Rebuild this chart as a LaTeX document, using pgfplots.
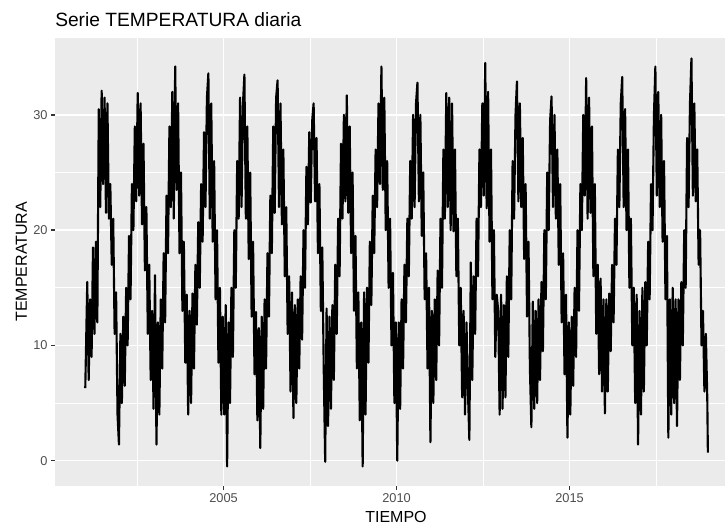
\documentclass[border=0pt]{standalone}
\usepackage{pgfplots}
\pgfplotsset{compat=1.18}
\usepackage{fontspec}
\setmainfont{Liberation Sans}
\definecolor{panelbg}{HTML}{EBEBEB}
\definecolor{gray30}{HTML}{4D4D4D}
\definecolor{gray20}{HTML}{333333}
\begin{document}
\begin{tikzpicture}
\useasboundingbox (0,0) rectangle (543.75pt,393.75pt);
\begin{axis}[
  at={(41.25pt,29.475pt)}, anchor=south west,
  scale only axis, width=502.5pt, height=336pt,
  xmin=2000.13, xmax=2019.49, ymin=-2.17, ymax=36.7,
  axis line style={draw=none},
  axis background/.style={fill=panelbg},
  xtick={2005,2010,2015}, xticklabels={2005,2010,2015},
  minor xtick={2002.5,2007.5,2012.5,2017.5},
  ytick={0,10,20,30}, yticklabels={0,10,20,30},
  minor ytick={5,15,25},
  grid=both,
  major grid style={white, line width=1.15pt},
  minor grid style={white, line width=0.58pt},
  tick align=outside, major tick length=3pt, minor tick length=0pt,
  tick style={gray20, line width=1.15pt},
  xtick pos=left, ytick pos=left,
  ticklabel style={font=\fontsize{9.6}{11}\selectfont, text=gray30},
  yticklabel style={anchor=east, inner sep=0pt, xshift=-2.4pt},
  xticklabel style={anchor=north, inner sep=0pt, yshift=-2.4pt},
]
\addplot[black, line width=1.6pt, line join=round, mark=none] coordinates {
(2001.005,6.3) (2001.062,15.5) (2001.103,7) (2001.145,14) (2001.187,9) (2001.228,18.5) (2001.270,11) (2001.312,19) (2001.353,12) (2001.395,30.5) (2001.437,22) (2001.478,32.1) (2001.520,24) (2001.562,31.5) (2001.603,21.5) (2001.645,31) (2001.687,21) (2001.728,24) (2001.770,17) (2001.812,21) (2001.853,11) (2001.895,14.6) (2001.937,4) (2001.978,1.4)
(2002.020,11) (2002.062,5) (2002.103,12.5) (2002.145,6.5) (2002.187,15) (2002.228,10) (2002.270,19.5) (2002.312,14) (2002.353,24) (2002.395,20) (2002.437,29) (2002.478,22.5) (2002.520,31.9) (2002.562,23) (2002.603,31) (2002.645,20.5) (2002.687,27.5) (2002.728,16.5) (2002.770,22) (2002.812,11) (2002.853,17) (2002.895,7) (2002.937,13) (2002.978,4.5)
(2003.020,16.1) (2003.062,1.4) (2003.103,12) (2003.145,4) (2003.187,14) (2003.228,8) (2003.270,18) (2003.312,12) (2003.353,23) (2003.395,18) (2003.437,29) (2003.478,22) (2003.520,32) (2003.562,21) (2003.603,34.2) (2003.645,23.5) (2003.687,31) (2003.728,18) (2003.770,25) (2003.812,13) (2003.853,19) (2003.895,8.5) (2003.937,14.4) (2003.978,4)
(2004.020,13) (2004.062,5) (2004.103,14.5) (2004.145,8) (2004.187,17) (2004.228,11.8) (2004.270,20.7) (2004.312,15) (2004.353,24) (2004.395,19) (2004.437,28.5) (2004.478,22) (2004.520,31.5) (2004.562,33.6) (2004.603,21) (2004.645,31) (2004.687,19) (2004.728,26) (2004.770,14) (2004.812,20) (2004.853,8.5) (2004.895,15) (2004.937,4) (2004.978,12.5)
(2005.020,4) (2005.062,13.5) (2005.103,-0.5) (2005.145,12) (2005.187,5) (2005.228,15) (2005.270,9) (2005.312,20) (2005.353,15) (2005.395,26) (2005.437,21) (2005.478,31.5) (2005.520,22) (2005.562,31) (2005.603,33.5) (2005.645,21) (2005.687,29) (2005.728,17.5) (2005.770,25) (2005.812,12.5) (2005.853,19) (2005.895,7.5) (2005.937,12.9) (2005.978,3.5)
(2006.020,11.5) (2006.062,1.1) (2006.103,12.5) (2006.145,4.5) (2006.187,14) (2006.228,8) (2006.270,18) (2006.312,12.5) (2006.353,23) (2006.395,18) (2006.437,29) (2006.478,21.5) (2006.520,31.5) (2006.562,33) (2006.603,22) (2006.645,31) (2006.687,20.5) (2006.728,27) (2006.770,16) (2006.812,22) (2006.853,11) (2006.895,16) (2006.937,6) (2006.978,14.6)
(2007.020,3.7) (2007.062,13.5) (2007.103,5) (2007.145,14) (2007.187,8) (2007.228,16) (2007.270,10.5) (2007.312,20) (2007.353,15) (2007.395,25.5) (2007.437,20.5) (2007.478,28.5) (2007.520,22.4) (2007.562,29.5) (2007.603,31) (2007.645,22.5) (2007.687,28) (2007.728,18) (2007.770,24) (2007.812,13) (2007.853,18.5) (2007.895,8) (2007.937,-0.1) (2007.978,13.2)
(2008.020,3) (2008.062,12.5) (2008.103,4.5) (2008.145,13.5) (2008.187,7) (2008.228,17) (2008.270,11) (2008.312,21) (2008.353,16) (2008.395,27.5) (2008.437,21) (2008.478,30) (2008.520,22.5) (2008.562,31.7) (2008.603,21.5) (2008.645,29) (2008.687,18) (2008.728,25) (2008.770,13) (2008.812,19.5) (2008.853,8) (2008.895,14.6) (2008.937,3.5) (2008.978,12)
(2009.020,-0.5) (2009.062,14.6) (2009.103,4) (2009.145,15) (2009.187,8.5) (2009.228,19) (2009.270,13.5) (2009.312,23) (2009.353,18) (2009.395,27) (2009.437,22) (2009.478,31) (2009.520,24) (2009.562,34.2) (2009.603,23.5) (2009.645,31.5) (2009.687,20) (2009.728,26) (2009.770,15) (2009.812,21) (2009.853,10) (2009.895,16.3) (2009.937,5) (2009.978,12)
(2010.020,0) (2010.062,12) (2010.103,4.5) (2010.145,14) (2010.187,8) (2010.228,17) (2010.270,12) (2010.312,21) (2010.353,16) (2010.395,26) (2010.437,21) (2010.478,30) (2010.520,22) (2010.562,31) (2010.603,32.8) (2010.645,22.5) (2010.687,30) (2010.728,19.5) (2010.770,25) (2010.812,14) (2010.853,18) (2010.895,8) (2010.937,15) (2010.978,1.6)
(2011.020,13) (2011.062,5) (2011.103,14) (2011.145,7) (2011.187,16.5) (2011.228,10) (2011.270,21) (2011.312,15) (2011.353,27) (2011.395,21) (2011.437,31.9) (2011.478,22) (2011.520,31.5) (2011.562,20) (2011.603,31) (2011.645,19.9) (2011.687,27) (2011.728,16) (2011.770,21) (2011.812,10) (2011.853,15) (2011.895,5.5) (2011.937,13) (2011.978,4)
(2012.020,12) (2012.062,6) (2012.103,1.8) (2012.145,17.2) (2012.187,7) (2012.228,16) (2012.270,11) (2012.312,21) (2012.353,16) (2012.395,27) (2012.437,22) (2012.478,31) (2012.520,23) (2012.562,34.5) (2012.603,21.9) (2012.645,32) (2012.687,19) (2012.728,27) (2012.770,14) (2012.812,20) (2012.853,9) (2012.895,14.4) (2012.937,13) (2012.978,4)
(2013.020,14.4) (2013.062,4.5) (2013.103,13.5) (2013.145,5.5) (2013.187,16) (2013.228,9) (2013.270,20) (2013.312,14) (2013.353,26) (2013.395,21) (2013.437,30) (2013.478,32.9) (2013.520,22.5) (2013.562,31) (2013.603,22) (2013.645,28) (2013.687,17.5) (2013.728,24) (2013.770,12.5) (2013.812,19) (2013.853,8) (2013.895,2.9) (2013.937,13.8) (2013.978,4.5)
(2014.020,13) (2014.062,5) (2014.103,14) (2014.145,7) (2014.187,15.5) (2014.228,9.5) (2014.270,20) (2014.312,14) (2014.353,25) (2014.395,20) (2014.437,29.5) (2014.478,31.6) (2014.520,22) (2014.562,30) (2014.603,21) (2014.645,27) (2014.687,17) (2014.728,24) (2014.770,12) (2014.812,18) (2014.853,7.5) (2014.895,14.4) (2014.937,2) (2014.978,12)
(2015.020,4) (2015.062,12.5) (2015.103,6.5) (2015.145,15) (2015.187,9) (2015.228,20) (2015.270,13) (2015.312,24) (2015.353,20) (2015.395,30) (2015.437,23) (2015.478,33.2) (2015.520,21) (2015.562,31.5) (2015.603,21.5) (2015.645,29) (2015.687,16) (2015.728,24) (2015.770,11) (2015.812,17) (2015.853,7.5) (2015.895,15.8) (2015.937,6) (2015.978,14)
(2016.020,4.1) (2016.062,14) (2016.103,6) (2016.145,14.5) (2016.187,9.5) (2016.228,17) (2016.270,12) (2016.312,21) (2016.353,17) (2016.395,27) (2016.437,22) (2016.478,31) (2016.520,33.3) (2016.562,22) (2016.603,30.5) (2016.645,20) (2016.687,27) (2016.728,15) (2016.770,21) (2016.812,10) (2016.853,15) (2016.895,5) (2016.937,14.4) (2016.978,1.4)
(2017.020,13) (2017.062,4) (2017.103,15) (2017.145,6) (2017.187,15.5) (2017.228,10) (2017.270,19) (2017.312,14) (2017.353,24) (2017.395,20) (2017.437,30) (2017.478,34.2) (2017.520,23) (2017.562,32) (2017.603,22) (2017.645,30) (2017.687,19) (2017.728,26) (2017.770,14) (2017.812,19.5) (2017.853,2) (2017.895,14) (2017.937,4) (2017.978,15)
(2018.020,5) (2018.062,14) (2018.103,3) (2018.145,14) (2018.187,7) (2018.228,15.5) (2018.270,10) (2018.312,20) (2018.353,15) (2018.395,28) (2018.437,22) (2018.478,31) (2018.520,34.9) (2018.562,23) (2018.603,31) (2018.645,22.5) (2018.687,27) (2018.728,17) (2018.770,20) (2018.812,10) (2018.853,13) (2018.895,6) (2018.937,11) (2018.978,5.4) (2018.995,0.7)
};
\end{axis}
\node[anchor=base west, inner sep=0pt, font=\fontsize{14.4}{17}\selectfont] at (41.25pt,373.7pt) {Serie TEMPERATURA diaria};
\node[rotate=90, anchor=base, inner sep=0pt, font=\fontsize{12}{14}\selectfont] at (20.2pt,197.5pt) {TEMPERATURA};
\node[anchor=base, inner sep=0pt, font=\fontsize{12}{14}\selectfont] at (297pt,2pt) {TIEMPO};
\end{tikzpicture}
\end{document}
